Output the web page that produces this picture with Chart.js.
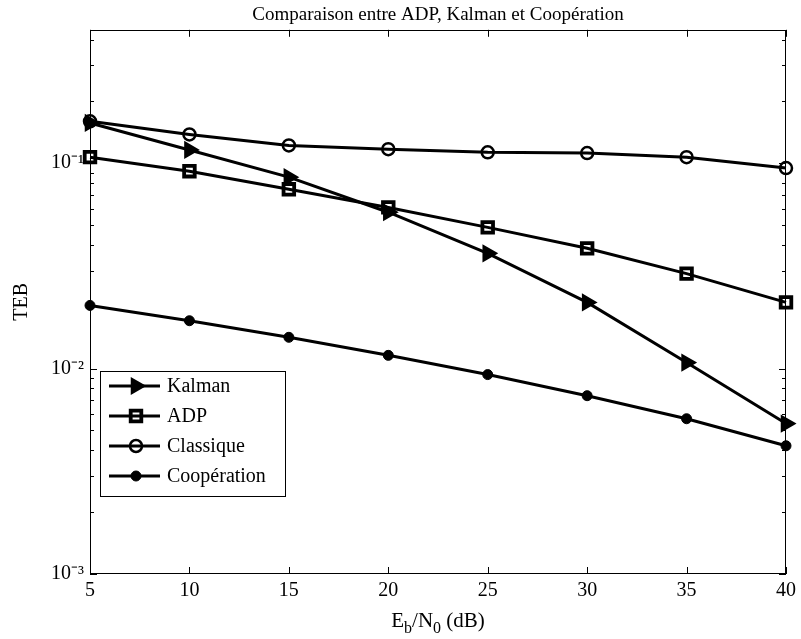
<!DOCTYPE html>
<html><head><meta charset="utf-8">
<script src="https://cdn.jsdelivr.net/npm/chart.js@4/dist/chart.umd.min.js"></script>
<style>html,body{margin:0;padding:0;background:#fff}</style>
</head><body>
<canvas id="c" width="801" height="639"></canvas>
<script>
const TITLE = 'Comparaison entre ADP, Kalman et Coopération';
const Y_TITLE = 'TEB';
const X_TITLE_PARTS = [['E', 0], ['b', 1], ['/N', 0], ['0', 1], [' (dB)', 0]];
const EBN0 = [5, 10, 15, 20, 25, 30, 35, 40];
const KALMAN = [0.157, 0.116, 0.0855, 0.0577, 0.0364, 0.0210, 0.0107, 0.0054];
const ADP = [0.107, 0.0914, 0.0746, 0.0609, 0.0487, 0.0385, 0.0290, 0.0210];
const CLASSIQUE = [0.160, 0.138, 0.122, 0.117, 0.113, 0.112, 0.107, 0.0947];
const COOPERATION = [0.0203, 0.0171, 0.0142, 0.0116, 0.00935, 0.00738, 0.00570, 0.00421];
const X_TICKS = [5, 10, 15, 20, 25, 30, 35, 40];
const Y_TICKS = [0.001, 0.01, 0.1];
const Y_TICK_LABELS = ['10⁻³', '10⁻²', '10⁻¹'];
const SERIES_NAMES = ['Kalman', 'ADP', 'Classique', 'Coopération'];

const FONT = 'Liberation Serif, Times New Roman, serif';
const pts = arr => EBN0.map((x, i) => ({x: x, y: arr[i]}));

function ds(label, arr, style, radius, fill, bw, rot) {
  return {
    label: label, data: pts(arr), borderColor: '#000', borderWidth: 3,
    pointStyle: style, pointRadius: radius, pointHoverRadius: radius,
    pointBackgroundColor: fill, pointBorderColor: '#000', pointBorderWidth: bw,
    pointRotation: rot || 0, tension: 0, fill: false, clip: false
  };
}

const decor = {
  id: 'decor',
  afterDatasetsDraw(chart) {
    const ctx = chart.ctx, ca = chart.chartArea, xs = chart.scales.x, ys = chart.scales.y;
    ctx.save();
    ctx.strokeStyle = '#000'; ctx.lineWidth = 1;
    const line = (a, b, c, d) => { ctx.beginPath(); ctx.moveTo(a, b); ctx.lineTo(c, d); ctx.stroke(); };
    ctx.strokeRect(Math.round(ca.left) + 0.5, Math.round(ca.top) + 0.5, Math.round(ca.right - ca.left) - 1, Math.round(ca.bottom - ca.top) - 1);
    X_TICKS.forEach(v => {
      const px = Math.round(xs.getPixelForValue(v)) + 0.5;
      line(px, ca.bottom, px, ca.bottom - 7);
      line(px, ca.top, px, ca.top + 7);
    });
    for (let e = -3; e <= 0; e++) for (let m = 1; m <= 9; m++) {
      const v = m * Math.pow(10, e);
      if (v < ys.min * 0.999 || v > ys.max * 1.001) continue;
      const py = Math.round(ys.getPixelForValue(v)) + 0.5;
      const L = m === 1 ? 7 : 4;
      line(ca.left, py, ca.left + L, py);
      line(ca.right, py, ca.right - L, py);
    }
    // x axis title with subscripts
    ctx.fillStyle = '#000';
    ctx.textBaseline = 'alphabetic';
    const big = '21px ' + FONT, small = '16px ' + FONT;
    let total = 0;
    X_TITLE_PARTS.forEach(p => { ctx.font = p[1] ? small : big; total += ctx.measureText(p[0]).width; });
    let x = (ca.left + ca.right) / 2 - total / 2;
    const base = 627;
    X_TITLE_PARTS.forEach(p => {
      ctx.font = p[1] ? small : big;
      ctx.textAlign = 'left';
      ctx.fillText(p[0], x, base + (p[1] ? 6 : 0));
      x += ctx.measureText(p[0]).width;
    });
    // legend
    const Lx = 100, Ly = 371, Lw = 185, Lh = 125;
    ctx.fillStyle = '#fff';
    ctx.fillRect(Lx, Ly, Lw, Lh);
    ctx.lineWidth = 1;
    ctx.strokeRect(Lx + 0.5, Ly + 0.5, Lw, Lh);
    chart.data.datasets.forEach((d, i) => {
      const cy = Ly + 15 + i * 30;
      ctx.strokeStyle = '#000'; ctx.lineWidth = d.borderWidth;
      line(Lx + 9, cy, Lx + 60, cy);
      ctx.fillStyle = d.pointBackgroundColor; ctx.strokeStyle = d.pointBorderColor; ctx.lineWidth = d.pointBorderWidth;
      Chart.helpers.drawPoint(ctx, {pointStyle: d.pointStyle, rotation: d.pointRotation, radius: d.pointRadius, borderWidth: d.pointBorderWidth}, Lx + 36, cy);
      ctx.fillStyle = '#000'; ctx.font = '20px ' + FONT; ctx.textAlign = 'left'; ctx.textBaseline = 'middle';
      ctx.fillText(d.label, Lx + 67, cy + 1);
    });
    ctx.restore();
  }
};

new Chart(document.getElementById('c'), {
  type: 'line',
  data: {
    datasets: [
      ds(SERIES_NAMES[0], KALMAN, 'triangle', 8.5, '#000', 2, 90),
      ds(SERIES_NAMES[1], ADP, 'rect', 7.5, 'rgba(0,0,0,0)', 3.8),
      ds(SERIES_NAMES[2], CLASSIQUE, 'circle', 6, 'rgba(0,0,0,0)', 2.5),
      ds(SERIES_NAMES[3], COOPERATION, 'circle', 5, '#000', 1)
    ]
  },
  options: {
    responsive: false, animation: false, devicePixelRatio: 1,
    layout: {padding: {left: 0, right: 11, top: 0, bottom: 0}},
    plugins: {
      legend: {display: false}, tooltip: {enabled: false},
      title: {display: true, fullSize: false, text: TITLE, color: '#000', font: {family: FONT, size: 19, weight: 'normal', lineHeight: 1.2}, padding: {top: 4, bottom: 3}}
    },
    scales: {
      x: {
        type: 'linear', min: 5, max: 40,
        afterBuildTicks: s => { s.ticks = X_TICKS.map(v => ({value: v})); },
        grid: {display: false, drawTicks: false}, border: {display: false},
        ticks: {color: '#000', font: {family: FONT, size: 20}, padding: 5, maxRotation: 0, autoSkip: false},
        afterFit: s => { s.height = 65; }
      },
      y: {
        type: 'logarithmic', min: 0.001, max: 0.446,
        afterBuildTicks: s => { s.ticks = Y_TICKS.map(v => ({value: v})); },
        grid: {display: false, drawTicks: false}, border: {display: false},
        ticks: {
          color: '#000', font: {family: FONT, size: 20}, padding: 6, autoSkip: false,
          callback: v => { const i = Y_TICKS.findIndex(t => Math.abs(t - v) / t < 1e-6); return i >= 0 ? Y_TICK_LABELS[i] : ''; }
        },
        title: {display: true, text: Y_TITLE, color: '#000', font: {family: FONT, size: 20}, padding: {top: 10, bottom: 0}},
        afterFit: s => { s.width = 90; }
      }
    }
  },
  plugins: [decor]
});
</script>
</body></html>
